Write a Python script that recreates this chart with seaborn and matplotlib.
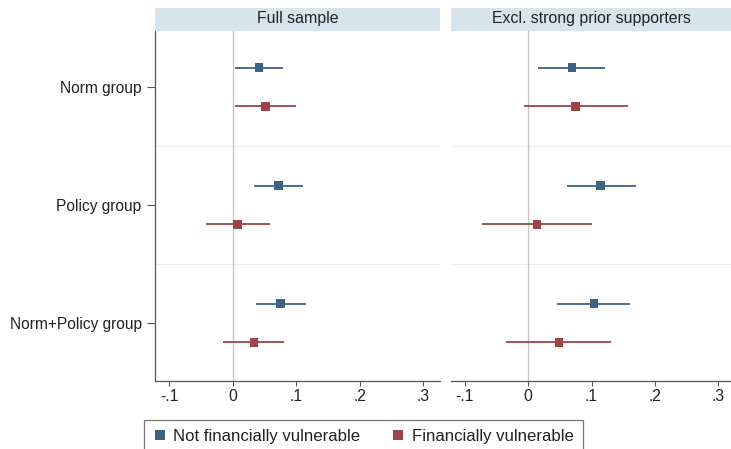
import numpy as np
import pandas as pd
import matplotlib
matplotlib.use("Agg")
import matplotlib.pyplot as plt
from matplotlib.patches import Rectangle
from matplotlib.lines import Line2D
import seaborn as sns

# Treatment groups and sample definitions
groups = ["Norm group", "Policy group", "Norm+Policy group"]
samples = ["Full sample", "Excl. strong prior supporters"]
statuses = ["Not financially vulnerable", "Financially vulnerable"]

# Point estimates and 95% confidence bounds, full sample
full_notvul_est = [0.041, 0.072, 0.075]
full_notvul_lo = [0.003, 0.033, 0.036]
full_notvul_hi = [0.079, 0.110, 0.115]
full_vul_est = [0.051, 0.007, 0.033]
full_vul_lo = [0.003, -0.043, -0.015]
full_vul_hi = [0.099, 0.058, 0.080]

# Point estimates and 95% confidence bounds, excluding strong prior supporters
excl_notvul_est = [0.069, 0.114, 0.104]
excl_notvul_lo = [0.015, 0.061, 0.046]
excl_notvul_hi = [0.122, 0.170, 0.161]
excl_vul_est = [0.075, 0.014, 0.049]
excl_vul_lo = [-0.007, -0.073, -0.034]
excl_vul_hi = [0.157, 0.100, 0.131]

x_ticks = [-0.1, 0, 0.1, 0.2, 0.3]
x_tick_labels = ["-.1", "0", ".1", ".2", ".3"]

rows = []
series = {
    (samples[0], statuses[0]): (full_notvul_est, full_notvul_lo, full_notvul_hi),
    (samples[0], statuses[1]): (full_vul_est, full_vul_lo, full_vul_hi),
    (samples[1], statuses[0]): (excl_notvul_est, excl_notvul_lo, excl_notvul_hi),
    (samples[1], statuses[1]): (excl_vul_est, excl_vul_lo, excl_vul_hi),
}
offsets = {statuses[0]: -0.165, statuses[1]: 0.165}
for (smp, st), (est, lo, hi) in series.items():
    for i, g in enumerate(groups):
        rows.append(dict(sample=smp, status=st, group=g, est=est[i], lo=lo[i],
                         hi=hi[i], ypos=i + 1 + offsets[st]))
df = pd.DataFrame(rows)

sns.set_theme(style="white")
plt.rcParams["font.family"] = ["Liberation Sans", "DejaVu Sans"]
text_color = "#222222"
axis_color = "#555555"

palette = {statuses[0]: "#3e6384", statuses[1]: "#9d434a"}

W, H = 731, 449
fig = plt.figure(figsize=(W / 100, H / 100), dpi=100)

top_px, bot_px = 31, 381
panels = [(155, 440, -0.1228, 0.326), (451, 731, -0.1213, 0.3197)]

axes = []
for k, (x0, x1, xmin, xmax) in enumerate(panels):
    ax = fig.add_axes([x0 / W, 1 - bot_px / H, (x1 - x0) / W, (bot_px - top_px) / H])
    axes.append(ax)
    sub = df[df["sample"] == samples[k]]

    # group separators and zero reference line
    for yb in [1.5, 2.5]:
        ax.axhline(yb, color="#ececec", lw=0.8, zorder=0)
    ax.axvline(0, color="#c4c4c4", lw=0.9, zorder=1)

    # confidence intervals
    for st in statuses:
        s = sub[sub["status"] == st]
        ax.hlines(s["ypos"], s["lo"], s["hi"], color=palette[st], lw=1.3, zorder=2)

    # point estimates
    sns.scatterplot(data=sub, x="est", y="ypos", hue="status", palette=palette,
                    marker="s", s=38, linewidth=0, ax=ax, legend=False, zorder=3)

    ax.set_xlim(xmin, xmax)
    ax.set_ylim(1 + (bot_px - 87) / 118, 1 + (top_px - 87) / 118)
    ax.set_xticks(x_ticks)
    ax.set_xticklabels(x_tick_labels)
    ax.set_xlabel("")
    ax.set_ylabel("")
    ax.tick_params(axis="x", direction="out", length=3.6, width=0.8, color=axis_color,
                   labelsize=11.3, labelcolor=text_color, pad=2.5, bottom=True)
    for side in ["top", "right"]:
        ax.spines[side].set_visible(False)
    ax.spines["bottom"].set_color(axis_color)
    ax.spines["bottom"].set_linewidth(0.9)
    if k == 0:
        ax.set_yticks([1, 2, 3])
        ax.set_yticklabels(groups)
        ax.tick_params(axis="y", direction="out", length=5.8, width=0.8, color=axis_color,
                       labelsize=11.2, labelcolor=text_color, pad=3.8, left=True)
        ax.spines["left"].set_color(axis_color)
        ax.spines["left"].set_linewidth(0.9)
    else:
        ax.set_yticks([])
        ax.spines["left"].set_visible(False)

    # panel title strip
    fig.patches.append(Rectangle((x0 / W, 1 - 30.5 / H), (x1 - x0) / W, 23 / H,
                                 transform=fig.transFigure, facecolor="#d7e4eb",
                                 edgecolor="none", zorder=0))
    fig.text((x0 + x1) / 2 / W, 1 - 19 / H, samples[k], ha="center", va="center",
             fontsize=11.4, color=text_color)

handles = [Line2D([], [], marker="s", linestyle="none", markersize=7,
                  markerfacecolor=palette[st], markeredgewidth=0) for st in statuses]
leg = fig.legend(handles, statuses, loc="upper left", bbox_to_anchor=(143.5 / W, 1 - 419.5 / H),
                 ncol=2, frameon=True, fontsize=12.1, handlelength=0.8, handletextpad=0.4,
                 columnspacing=1.85, borderpad=0.57, borderaxespad=0, fancybox=False)
leg.get_frame().set_edgecolor("#555555")
leg.get_frame().set_linewidth(0.9)
for t in leg.get_texts():
    t.set_color(text_color)

fig.savefig("out.png", dpi=100)
